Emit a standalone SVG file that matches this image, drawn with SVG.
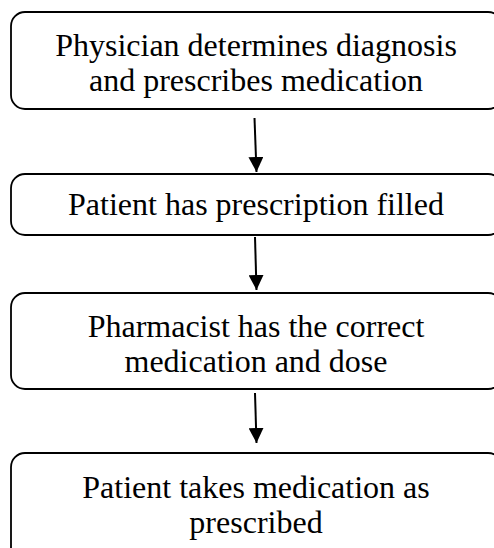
<svg xmlns="http://www.w3.org/2000/svg" width="494" height="548" viewBox="0 0 494 548">
  <style>
    .box { fill: #ffffff; stroke: #000000; stroke-width: 1.8; }
    .label { font-family: "Liberation Serif", "Times New Roman", serif; font-size: 32px; fill: #000000; text-anchor: middle; }
    .conn { stroke: #000000; stroke-width: 2; fill: none; marker-end: url(#arrow); }
  </style>
  <defs>
    <marker id="arrow" markerUnits="userSpaceOnUse" markerWidth="15" markerHeight="15" refX="15" refY="7.5" orient="auto">
      <path d="M0,0 L15,7.5 L0,15 Z" fill="#000000"/>
    </marker>
  </defs>
  <rect width="494" height="548" fill="#ffffff"/>

  <g id="step-diagnosis">
    <rect class="box" x="11" y="12" width="491" height="97" rx="14" ry="14"/>
    <text class="label" x="256" y="56">Physician determines diagnosis</text>
    <text class="label" x="256" y="91">and prescribes medication</text>
  </g>

  <g id="step-filled">
    <rect class="box" x="11" y="174" width="491" height="61" rx="14" ry="14"/>
    <text class="label" x="256" y="215">Patient has prescription filled</text>
  </g>

  <g id="step-pharmacist">
    <rect class="box" x="11" y="293" width="491" height="96" rx="14" ry="14"/>
    <text class="label" x="256" y="337">Pharmacist has the correct</text>
    <text class="label" x="256" y="372">medication and dose</text>
  </g>

  <g id="step-takes">
    <rect class="box" x="11" y="453" width="491" height="130" rx="14" ry="14"/>
    <text class="label" x="256" y="498">Patient takes medication as</text>
    <text class="label" x="256" y="533">prescribed</text>
  </g>

  <g id="connectors">
    <line class="conn" x1="254.5" y1="118" x2="256.5" y2="172"/>
    <line class="conn" x1="255" y1="237" x2="256.5" y2="290"/>
    <line class="conn" x1="255" y1="393" x2="256.5" y2="443"/>
  </g>
</svg>
